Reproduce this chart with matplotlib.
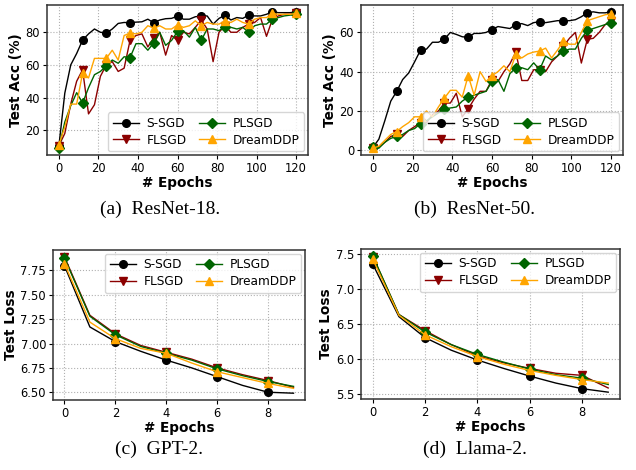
import matplotlib
matplotlib.use("Agg")
import matplotlib.pyplot as plt
import numpy as np

# ResNet epochs: evaluated every 3 epochs
cnn_epochs = list(range(0, 121, 3))
llm_epochs = list(range(0, 10))

labels = ["S-SGD", "FLSGD", "PLSGD", "DreamDDP"]
colors = ["black", "#8B0000", "#006400", "orange"]
markers = ["o", "v", "D", "^"]

r18_ssgd = [10.2, 42.7, 60, 67, 75.2, 79, 82, 80, 79.5, 82, 85.4, 86, 85.8, 86.2,
            86.4, 88, 85.8, 87.5, 88.3, 88.5, 89.9, 88, 88, 89.5, 89.9, 90, 85,
            88.5, 90.5, 87.5, 89, 88.5, 90.5, 90, 90, 91, 92.5, 92, 92, 92, 92.5]
r18_flsgd = [10.5, 18, 36, 50, 57, 30, 35.6, 53, 60, 62, 56, 58, 75, 78, 79, 71,
             76.7, 80, 66, 78, 75, 80, 79, 83, 87.5, 82, 62, 80, 84, 80, 80, 83,
             85, 86, 89, 77.5, 88, 90, 91, 91, 91.5]
r18_plsgd = [9, 25, 35, 43, 36.6, 46, 54, 56, 59.5, 63, 61, 65, 64.5, 73, 73, 69,
             73.5, 80, 72, 75, 80.5, 81, 77, 83, 75, 82, 82, 81, 83.5, 83, 82, 83,
             80, 84, 85, 85, 88, 89, 90, 90.5, 91]
r18_dream = [11, 22, 36, 36, 55, 52, 64, 64, 64, 69, 63, 78, 79.5, 79, 80, 84,
             82.5, 84, 82, 82, 84.5, 83, 84, 87, 84, 86, 85, 85, 87, 86, 88, 86,
             85, 88, 89, 89, 91.5, 91, 91, 91, 91.5]

r50_ssgd = [1.4, 5.6, 15, 25, 30, 36, 39.3, 45, 51, 51.5, 55, 55, 56.5, 60, 59,
            57.8, 57.5, 59.5, 59.5, 60, 61.5, 63, 62.5, 62, 64, 64.5, 63.5, 65,
            65.5, 65, 65.5, 66, 66, 66, 66.5, 68, 70, 70.5, 70, 70, 70.5]
r50_flsgd = [1, 1.5, 4, 7, 8, 7, 10, 12, 14, 14, 18, 20, 24, 24, 29, 17, 21, 26,
             30, 30, 36, 35, 40, 44, 50, 35.5, 35.5, 41, 41, 40, 45, 48, 53, 57,
             60, 44.4, 56.5, 57, 60, 64, 66]
r50_plsgd = [1.5, 1, 4, 6, 7, 8, 10, 11, 13.5, 15, 17, 19, 21, 21.5, 22, 25, 27,
             28, 29, 30, 35, 36, 30, 39, 42, 42, 41, 44.5, 41, 48, 46, 48, 50.5,
             51.5, 51.5, 57, 61, 62, 63, 64, 65]
r50_dream = [1, 2, 5, 8, 9.5, 12, 14, 17, 17, 20, 17, 22, 26.5, 30.5, 30.5, 27,
             38, 28, 40, 35, 38, 40, 43, 40, 49, 47, 49, 50, 50.5, 52, 47, 51,
             55.5, 54, 54, 60, 66, 67, 68, 69, 69.5]

gpt_ssgd = [7.80, 7.17, 7.02, 6.92, 6.83, 6.75, 6.66, 6.57, 6.50, 6.49]
gpt_flsgd = [7.89, 7.29, 7.10, 6.98, 6.91, 6.84, 6.75, 6.68, 6.62, 6.55]
gpt_plsgd = [7.88, 7.28, 7.09, 6.97, 6.90, 6.83, 6.74, 6.67, 6.61, 6.56]
gpt_dream = [7.82, 7.22, 7.05, 6.95, 6.90, 6.80, 6.71, 6.65, 6.59, 6.54]

llama_ssgd = [7.35, 6.60, 6.30, 6.12, 5.98, 5.86, 5.75, 5.65, 5.57, 5.52]
llama_flsgd = [7.46, 6.63, 6.40, 6.20, 6.04, 5.94, 5.86, 5.79, 5.76, 5.58]
llama_plsgd = [7.47, 6.63, 6.38, 6.20, 6.06, 5.95, 5.85, 5.77, 5.72, 5.63]
llama_dream = [7.42, 6.62, 6.34, 6.17, 6.03, 5.92, 5.83, 5.76, 5.70, 5.65]


def draw_panel(ax, x, series, ylabel, markevery, legend_loc, yticks=None):
    for ys, lab, c, m in zip(series, labels, colors, markers):
        ax.plot(x, ys, color=c, marker=m, markevery=markevery, markersize=5.5,
                linewidth=1.0, label=lab)
    ax.grid(True, linestyle=":", color="#b0b0b0", linewidth=0.8)
    ax.set_xlabel("# Epochs", fontsize=9.8, fontweight="bold", labelpad=1)
    ax.set_ylabel(ylabel, fontsize=9.8, fontweight="bold", labelpad=2)
    ax.tick_params(labelsize=8.3, length=3, pad=2)
    if yticks is not None:
        ax.set_yticks(yticks)
    for sp in ax.spines.values():
        sp.set_color("#333333")
        sp.set_linewidth(1.1)
    ax.legend(loc=legend_loc, ncol=2, fontsize=8.7, handlelength=2.2,
              columnspacing=1.0, handletextpad=0.6, labelspacing=0.3,
              borderpad=0.4, borderaxespad=0.3)


fig = plt.figure(figsize=(6.36, 4.70), dpi=100)

ax_a = fig.add_axes([0.0739, 0.6702, 0.4104, 0.3191])
draw_panel(ax_a, cnn_epochs, [r18_ssgd, r18_flsgd, r18_plsgd, r18_dream],
           "Test Acc (%)", 4, "lower right", yticks=[20, 40, 60, 80])
ax_a.set_xticks([0, 20, 40, 60, 80, 100, 120])

ax_b = fig.add_axes([0.5676, 0.6702, 0.4120, 0.3191])
draw_panel(ax_b, cnn_epochs, [r50_ssgd, r50_flsgd, r50_plsgd, r50_dream],
           "Test Acc (%)", 4, "lower right", yticks=[0, 20, 40, 60])
ax_b.set_xticks([0, 20, 40, 60, 80, 100, 120])

ax_c = fig.add_axes([0.0833, 0.1489, 0.3962, 0.3191])
draw_panel(ax_c, llm_epochs, [gpt_ssgd, gpt_flsgd, gpt_plsgd, gpt_dream],
           "Test Loss", 2, "upper right",
           yticks=[6.50, 6.75, 7.00, 7.25, 7.50, 7.75])
ax_c.set_yticklabels(["6.50", "6.75", "7.00", "7.25", "7.50", "7.75"])
ax_c.set_xticks([0, 2, 4, 6, 8])

ax_d = fig.add_axes([0.5676, 0.1511, 0.4072, 0.3191])
draw_panel(ax_d, llm_epochs, [llama_ssgd, llama_flsgd, llama_plsgd, llama_dream],
           "Test Loss", 2, "upper right", yticks=[5.5, 6.0, 6.5, 7.0, 7.5])
ax_d.set_xticks([0, 2, 4, 6, 8])

cap = dict(fontsize=14, family="Liberation Serif", ha="center", va="center")
fig.text(160 / 636, 1 - 209 / 470, "(a)  ResNet-18.", **cap)
fig.text(475 / 636, 1 - 209 / 470, "(b)  ResNet-50.", **cap)
fig.text(159 / 636, 1 - 449 / 470, "(c)  GPT-2.", **cap)
fig.text(475 / 636, 1 - 449 / 470, "(d)  Llama-2.", **cap)

fig.savefig("out.png", dpi=100)
